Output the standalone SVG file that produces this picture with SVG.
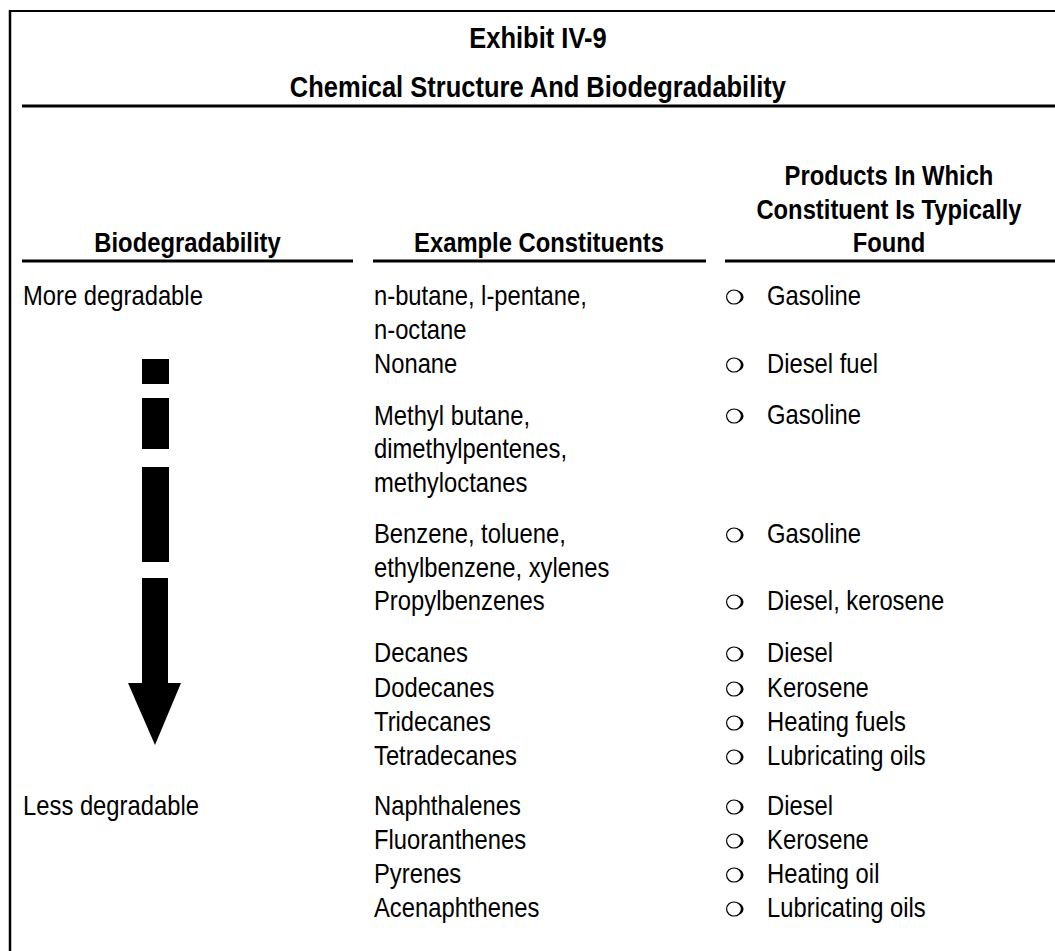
<svg xmlns="http://www.w3.org/2000/svg" width="1055" height="951" viewBox="0 0 1055 951">
  <style>
    .t { font-family: "Liberation Sans", Arial, Helvetica, sans-serif; font-size: 28px; fill: #000; }
    .ttl { font-family: "Liberation Sans", Arial, Helvetica, sans-serif; font-size: 30px; font-weight: bold; fill: #000; }
    .b { font-weight: bold; }
    .c { text-anchor: middle; }
    .rule { stroke: #000; fill: none; }
  </style>
  <defs>
    <!-- shadowed hollow bullet -->
    <g id="bullet">
      <ellipse cx="0" cy="0" rx="7.4" ry="7" fill="none" stroke="#000" stroke-width="1.2"/>
      <path d="M0,-7 A9.6,7 0 0 1 0,7 A7.4,7 0 0 0 0,-7Z" fill="#000"/>
    </g>
  </defs>

  <!-- frame -->
  <g id="frame">
    <line class="rule" x1="10" y1="11" x2="1055" y2="11" stroke-width="2"/>
    <line class="rule" x1="10" y1="10" x2="10" y2="951" stroke-width="2.5"/>
  </g>

  <!-- title (narrowed horizontally) -->
  <g id="title" transform="scale(0.85,1)">
    <text class="ttl c" x="632.9" y="48">Exhibit IV-9</text>
    <text class="ttl c" x="632.9" y="97">Chemical Structure And Biodegradability</text>
  </g>
  <line class="rule" x1="22" y1="106" x2="1055" y2="106" stroke-width="3"/>

  <!-- column headings -->
  <g id="headings" transform="scale(0.85,1)">
    <text class="t b c" x="220.6" y="252">Biodegradability</text>
    <text class="t b c" x="634.1" y="252">Example Constituents</text>
    <text class="t b c" x="1045.9" y="185">Products In Which</text>
    <text class="t b c" x="1045.9" y="219">Constituent Is Typically</text>
    <text class="t b c" x="1045.9" y="252">Found</text>
  </g>
  <g id="heading-rules">
    <line class="rule" x1="22" y1="261" x2="353" y2="261" stroke-width="3"/>
    <line class="rule" x1="373" y1="261" x2="706" y2="261" stroke-width="3"/>
    <line class="rule" x1="725" y1="261" x2="1055" y2="261" stroke-width="3"/>
  </g>

  <!-- biodegradability scale -->
  <g id="scale">
    <g transform="scale(0.85,1)">
      <text class="t" x="27.1" y="305">More degradable</text>
      <text class="t" x="27.1" y="815">Less degradable</text>
    </g>
    <g id="arrow" fill="#000">
      <rect x="142" y="359" width="27" height="25"/>
      <rect x="142" y="398" width="27" height="51"/>
      <rect x="142" y="467" width="27" height="95"/>
      <rect x="142" y="578" width="26" height="106"/>
      <polygon points="128,683 181,683 155,745"/>
    </g>
  </g>

  <!-- example constituents -->
  <g id="constituents" transform="scale(0.85,1)">
    <text class="t" x="440" y="305">n-butane, l-pentane,</text>
    <text class="t" x="440" y="339">n-octane</text>
    <text class="t" x="440" y="373">Nonane</text>
    <text class="t" x="440" y="425">Methyl butane,</text>
    <text class="t" x="440" y="458">dimethylpentenes,</text>
    <text class="t" x="440" y="492">methyloctanes</text>
    <text class="t" x="440" y="543">Benzene, toluene,</text>
    <text class="t" x="440" y="577">ethylbenzene, xylenes</text>
    <text class="t" x="440" y="610">Propylbenzenes</text>
    <text class="t" x="440" y="662">Decanes</text>
    <text class="t" x="440" y="697">Dodecanes</text>
    <text class="t" x="440" y="731">Tridecanes</text>
    <text class="t" x="440" y="765">Tetradecanes</text>
    <text class="t" x="440" y="815">Naphthalenes</text>
    <text class="t" x="440" y="849">Fluoranthenes</text>
    <text class="t" x="440" y="883">Pyrenes</text>
    <text class="t" x="440" y="917">Acenaphthenes</text>
  </g>

  <!-- products -->
  <g id="bullets">
    <use href="#bullet" x="734" y="297"/>
    <use href="#bullet" x="734" y="365"/>
    <use href="#bullet" x="734" y="416"/>
    <use href="#bullet" x="734" y="535"/>
    <use href="#bullet" x="734" y="602"/>
    <use href="#bullet" x="734" y="654"/>
    <use href="#bullet" x="734" y="689"/>
    <use href="#bullet" x="734" y="723"/>
    <use href="#bullet" x="734" y="757"/>
    <use href="#bullet" x="734" y="807"/>
    <use href="#bullet" x="734" y="841"/>
    <use href="#bullet" x="734" y="875"/>
    <use href="#bullet" x="734" y="909"/>
  </g>
  <g id="products" transform="scale(0.85,1)">
    <text class="t" x="902.4" y="305">Gasoline</text>
    <text class="t" x="902.4" y="373">Diesel fuel</text>
    <text class="t" x="902.4" y="424">Gasoline</text>
    <text class="t" x="902.4" y="543">Gasoline</text>
    <text class="t" x="902.4" y="610">Diesel, kerosene</text>
    <text class="t" x="902.4" y="662">Diesel</text>
    <text class="t" x="902.4" y="697">Kerosene</text>
    <text class="t" x="902.4" y="731">Heating fuels</text>
    <text class="t" x="902.4" y="765">Lubricating oils</text>
    <text class="t" x="902.4" y="815">Diesel</text>
    <text class="t" x="902.4" y="849">Kerosene</text>
    <text class="t" x="902.4" y="883">Heating oil</text>
    <text class="t" x="902.4" y="917">Lubricating oils</text>
  </g>
</svg>
